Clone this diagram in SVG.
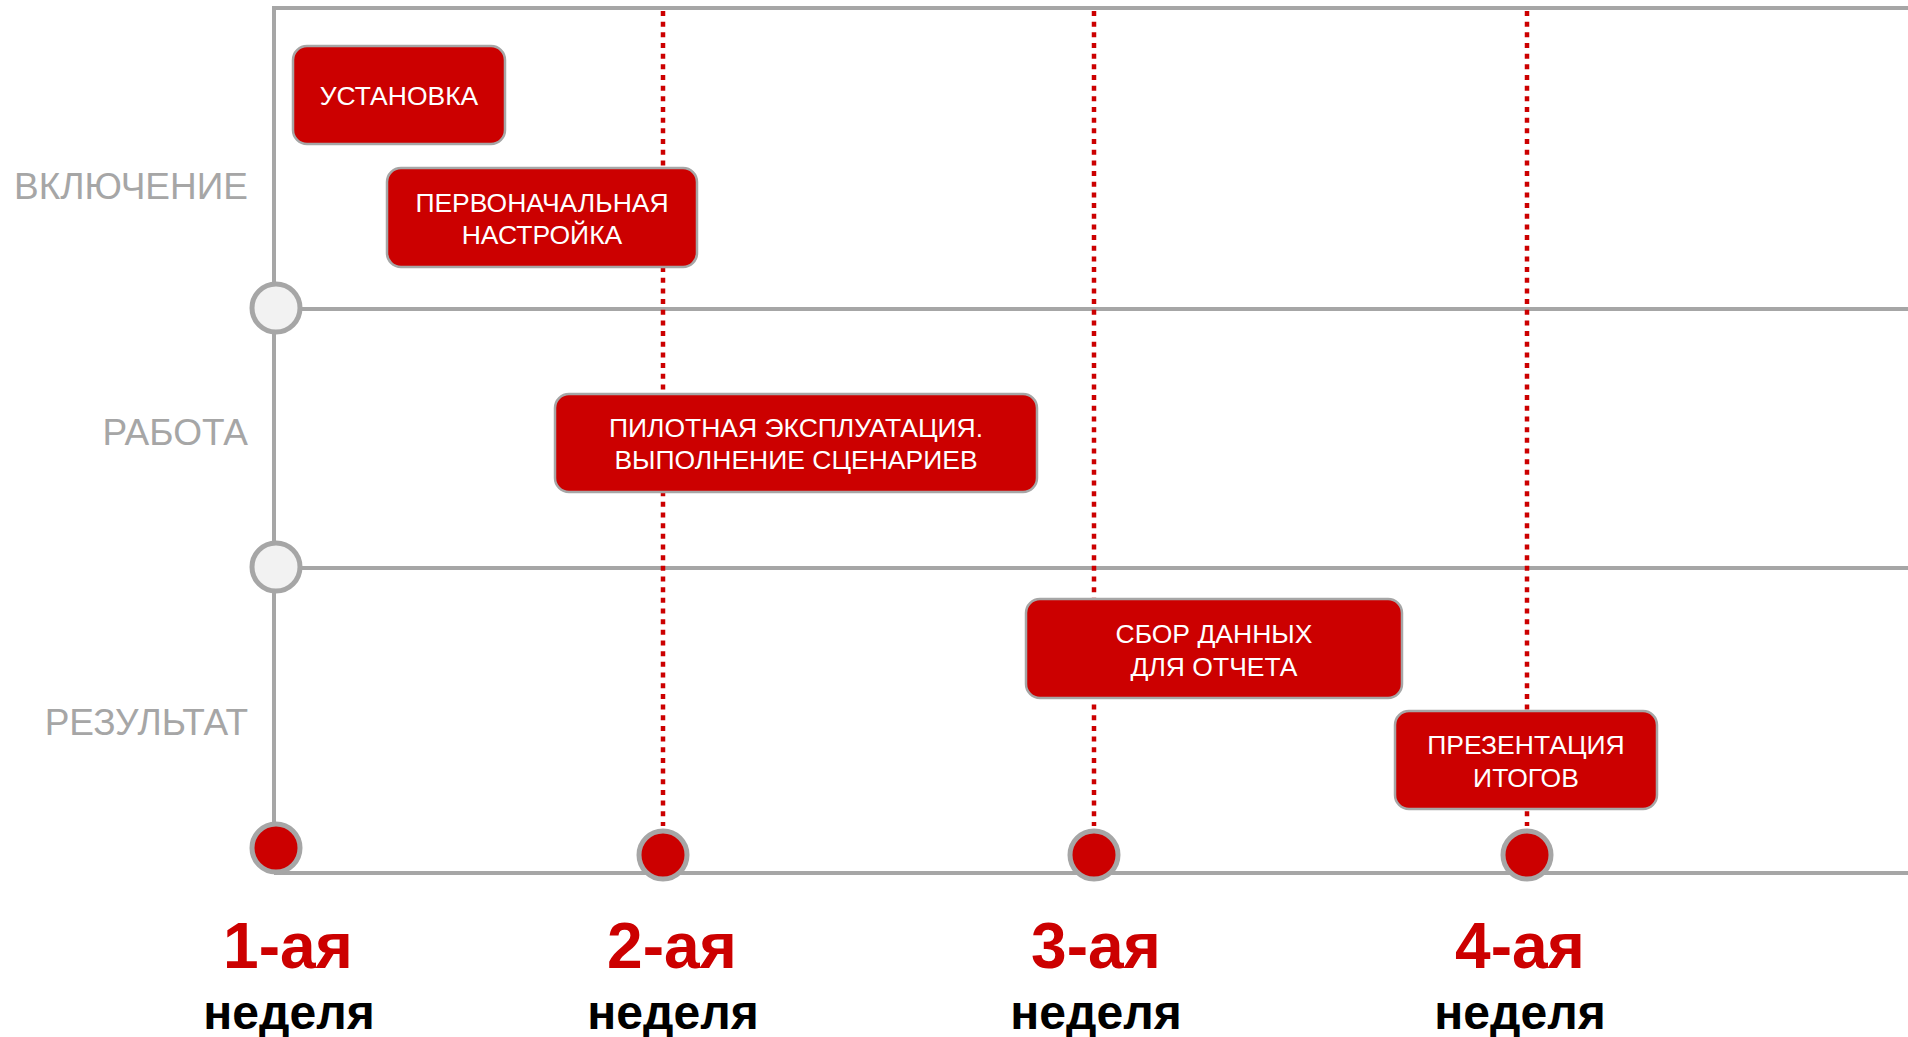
<svg xmlns="http://www.w3.org/2000/svg" width="1908" height="1037" viewBox="0 0 1908 1037">
<style>
.axis{stroke:#a6a6a6;stroke-width:4;fill:none}
.dot{stroke:#cc0000;stroke-width:4.5;stroke-dasharray:5 5.67;fill:none}
.box{fill:#cc0000;stroke:#a6a6a6;stroke-width:2.5}
.bt{font-family:"Liberation Sans",Arial,sans-serif;font-size:26.5px;fill:#ffffff;text-anchor:middle}
.side{font-family:"Liberation Sans",Arial,sans-serif;font-size:37px;fill:#a6a6a6;text-anchor:end}
.ms{fill:#f2f2f2;stroke:#a6a6a6;stroke-width:5}
.mr{fill:#cc0000;stroke:#a6a6a6;stroke-width:5}
.wk{font-family:"Liberation Sans",Arial,sans-serif;font-weight:bold;font-size:64px;fill:#cc0000;text-anchor:middle}
.wn{font-family:"Liberation Sans",Arial,sans-serif;font-weight:bold;font-size:48px;fill:#000000;text-anchor:middle}
</style>
<rect width="1908" height="1037" fill="#ffffff"/>
<g id="connectors">
<path class="axis" d="M274 873 L274 8 L1908 8"/>
<path class="axis" d="M274 873 L1908 873"/>
<path class="axis" d="M274 309 L1908 309"/>
<path class="axis" d="M274 568 L1908 568"/>
<path class="dot" d="M663 11 L663 826"/>
<path class="dot" d="M1094 11 L1094 826"/>
<path class="dot" d="M1527 11 L1527 826"/>
</g>
<g id="lane-labels">
<text class="side" x="248" y="199">ВКЛЮЧЕНИЕ</text>
<text class="side" x="248" y="445">РАБОТА</text>
<text class="side" x="248" y="735">РЕЗУЛЬТАТ</text>
</g>
<g id="milestone-1"><circle class="ms" cx="276" cy="308" r="24"/></g>
<g id="milestone-2"><circle class="ms" cx="276" cy="567" r="24"/></g>
<g id="node-ustanovka">
<rect class="box" x="293" y="46" width="212" height="98" rx="14"/>
<text class="bt" x="399" y="105">УСТАНОВКА</text>
</g>
<g id="node-nastroyka">
<rect class="box" x="387" y="168" width="310" height="99" rx="14"/>
<text class="bt" x="542" y="212">ПЕРВОНАЧАЛЬНАЯ</text>
<text class="bt" x="542" y="244">НАСТРОЙКА</text>
</g>
<g id="node-pilot">
<rect class="box" x="555" y="394" width="482" height="98" rx="14"/>
<text class="bt" x="796" y="437">ПИЛОТНАЯ ЭКСПЛУАТАЦИЯ.</text>
<text class="bt" x="796" y="469">ВЫПОЛНЕНИЕ СЦЕНАРИЕВ</text>
</g>
<g id="node-sbor">
<rect class="box" x="1026" y="599" width="376" height="99" rx="14"/>
<text class="bt" x="1214" y="643">СБОР ДАННЫХ</text>
<text class="bt" x="1214" y="676">ДЛЯ ОТЧЕТА</text>
</g>
<g id="node-prezentaciya">
<rect class="box" x="1395" y="711" width="262" height="98" rx="14"/>
<text class="bt" x="1526" y="754">ПРЕЗЕНТАЦИЯ</text>
<text class="bt" x="1526" y="787">ИТОГОВ</text>
</g>
<g id="week-1">
<circle class="mr" cx="276" cy="848" r="24"/>
<text class="wk" x="288" y="968">1-ая</text>
<text class="wn" x="289" y="1029">неделя</text>
</g>
<g id="week-2">
<circle class="mr" cx="663" cy="855" r="24"/>
<text class="wk" x="672" y="968">2-ая</text>
<text class="wn" x="673" y="1029">неделя</text>
</g>
<g id="week-3">
<circle class="mr" cx="1094" cy="855" r="24"/>
<text class="wk" x="1096" y="968">3-ая</text>
<text class="wn" x="1096" y="1029">неделя</text>
</g>
<g id="week-4">
<circle class="mr" cx="1527" cy="855" r="24"/>
<text class="wk" x="1520" y="968">4-ая</text>
<text class="wn" x="1520" y="1029">неделя</text>
</g>
</svg>
